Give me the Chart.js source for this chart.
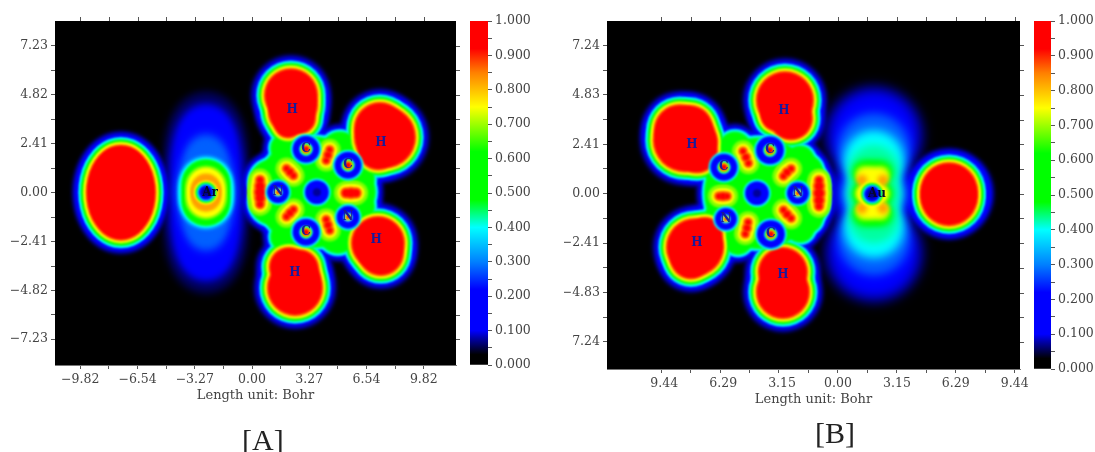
<!DOCTYPE html>
<html>
<head>
<meta charset="utf-8">
<script src="https://cdn.jsdelivr.net/npm/chart.js@4"></script>
<style>
  body { margin: 0; background: #fff; width: 1095px; height: 452px; overflow: hidden; position: relative; }
  canvas { position: absolute; top: 0; }
  .cap { position: absolute; font: 30px "Liberation Serif", serif; color: #222; line-height: 30px; }
</style>
</head>
<body>
<canvas id="panelA" width="470" height="452" style="left:0"></canvas>
<canvas id="barA" width="100" height="452" style="left:470px"></canvas>
<canvas id="panelB" width="470" height="452" style="left:564px"></canvas>
<canvas id="barB" width="61" height="452" style="left:1034px"></canvas>
<div class="cap" style="left:242px;top:425px">[A]</div>
<div class="cap" style="left:815px;top:418px">[B]</div>
<script>
// Tick values and labels, empty label = minor tick
const xTicksA = [-9.82, -8.18, -6.54, -4.9, -3.27, -1.63, 0, 1.63, 3.27, 4.9, 6.54, 8.18, 9.82];
const xLabelsA = ['\u22129.82', '', '\u22126.54', '', '\u22123.27', '', '0.00', '', '3.27', '', '6.54', '', '9.82'];
const yTicksA = [7.23, 6.03, 4.82, 3.62, 2.41, 1.21, 0, -1.21, -2.41, -3.62, -4.82, -6.03, -7.23];
const yLabelsA = ['7.23', '', '4.82', '', '2.41', '', '0.00', '', '\u22122.41', '', '\u22124.82', '', '\u22127.23'];
const xTicksB = [-9.44, -7.87, -6.29, -4.72, -3.15, -1.57, 0, 1.57, 3.15, 4.72, 6.29, 7.87, 9.44];
const xLabelsB = ['\u20029.44', '', '\u20026.29', '', '\u20023.15', '', '0.00', '', '3.15', '', '6.29', '', '9.44'];
const yTicksB = [7.24, 6.03, 4.83, 3.62, 2.41, 1.21, 0, -1.21, -2.41, -3.62, -4.83, -6.03, -7.24];
const yLabelsB = ['7.24', '', '4.83', '', '2.41', '', '0.00', '', '\u22122.41', '', '\u22124.83', '', '7.24'];

// Colour scale
const barStops = [0, 0.03, 0.08, 0.1, 0.22, 0.3, 0.4, 0.48, 0.62, 0.75, 0.85, 0.92, 1];
const barColors = ['#000000', '#000000', '#0000b0', '#0000ff', '#0000ff', '#0080ff', '#00ffff', '#00ff00', '#00ff00', '#ffff00', '#ff8000', '#ff0000', '#ff0000'];

// Contour levels, low to high ELF
const levelColors = ['#00005a', '#0000ff', '#0070ff', '#00ffff', '#00ff80', '#00ff00', '#80ff00', '#ffff00', '#ff8000', '#ff0000'];
// How far each contour lies outside the red core of a lobe
const lobeWidths = [15, 12.5, 9, 8, 6.8, 5.5, 4.2, 3, 1.5, 0];
// Same for the green ring body and for the bond basins
const bodyWidths = [9, 7, 3.5, 2.5, 1, 0];
const bondWidths = [null, null, null, null, null, null, 8, 4.5, 2, 0];

// Basins as [x, y, r] in Bohr
const lobesA = [
  [-7.49, 0, 34], [-7.49, 0.39, 33], [-7.49, -0.39, 33], [-7.49, 0.74, 30], [-7.49, -0.74, 30], [-7.49, 1.08, 25], [-7.49, -1.08, 25],
  [2.23, 4.8, 26], [2.34, 4.31, 24], [2.23, 3.97, 22], [2.74, 3.67, 15], [2.06, 3.37, 13],
  [7.6, 2.73, 30], [7.31, 3.18, 25], [7.2, 2.09, 19],
  [7.2, -2.49, 26], [7.37, -2.98, 22],
  [2.46, -4.7, 27], [2.74, -4.23, 20], [2.74, -3.74, 18], [2.11, -3.67, 19]
];
const bodyA = [
  [3.43, 0.02, 55], [1.14, 0.52, 22], [1.14, -0.47, 22], [5.6, 0.02, 25],
  [5.03, 2.09, 18], [1.89, 2.19, 14], [6.29, 0.71, 12], [6.29, -0.71, 12], [1.89, -2.19, 14], [4.91, -2.09, 18]
];
const bondsA = [
  [0.46, 0.62, 3.5], [0.46, 0.32, 4.5], [0.46, 0.02, 5], [0.46, -0.27, 4.5], [0.46, -0.57, 3.5],
  [1.97, 1.19, 3], [2.17, 1.01, 3.5], [2.37, 0.83, 3],
  [4.44, 2.11, 3], [4.34, 1.85, 3.5], [4.24, 1.58, 3],
  [5.37, -0.02, 4], [5.66, -0.02, 4.5], [5.95, -0.02, 4],
  [2.37, -0.83, 3], [2.17, -1.01, 3.5], [1.97, -1.19, 3],
  [4.24, -1.33, 3], [4.34, -1.6, 3.5], [4.44, -1.87, 3]
];
const holesA = [[3.09, 2.14, 13.5], [5.49, 1.35, 13.5], [1.49, 0.02, 11], [5.49, -1.21, 11.5], [3.09, -1.95, 13.5], [3.71, 0.02, 12]];
const carbonsA = [[3.09, 2.14], [5.49, 1.35], [3.09, -1.95]];
const nitrogensA = [[1.49, 0.02], [5.49, -1.21]];
const centreA = [[3.71, 0.02]];

const lobesB = [
  [5.93, 0.12, 28], [5.93, -0.17, 28],
  [-2.83, 4.56, 28], [-2.51, 3.68, 21], [-3.2, 3.98, 17], [-3.31, 3.78, 14],
  [-8.17, 2.61, 31], [-8.44, 3.1, 25], [-7.53, 2.02, 20], [-7.9, 3.2, 22], [-7.37, 2.51, 17],
  [-7.63, -2.61, 28], [-7.1, -2.02, 17], [-7.85, -3.15, 20], [-7.15, -2.51, 18],
  [-2.94, -4.8, 26], [-2.94, -3.83, 24]
];
const bodyB = [
  [-4.16, 0.02, 55], [-1.87, 0.41, 25], [-1.87, -0.46, 25],
  [-5.5, 2.22, 16], [-5.34, -2.27, 14], [-2.03, 1.63, 14], [-1.6, 1.15, 14], [-1.6, -1.2, 14], [-2.03, -1.68, 14], [-6.57, 1.05, 10], [-6.57, -1.1, 10]
];
const bondsB = [
  [-5.07, 2.07, 3], [-4.91, 1.78, 3.5], [-4.78, 1.49, 3],
  [-2.91, 0.85, 3], [-2.72, 1.05, 3.5], [-2.5, 1.22, 3],
  [-1.01, 0.66, 3.5], [-1.01, 0.37, 4.5], [-1.01, 0.02, 5], [-1.01, -0.32, 4.5], [-1.01, -0.61, 3.5],
  [-6.36, -0.12, 3], [-6.14, -0.12, 3.5], [-5.92, -0.12, 3],
  [-4.8, -1.39, 3], [-4.86, -1.68, 3.5], [-4.95, -1.97, 3],
  [-2.91, -0.8, 3], [-2.72, -1, 3.5], [-2.5, -1.2, 3]
];
const holesB = [[-6.09, 1.29, 13.5], [-3.63, 2.12, 14], [-2.14, 0.02, 11], [-5.98, -1.24, 11], [-3.58, -1.98, 14], [-4.32, 0.02, 12]];
const carbonsB = [[-6.09, 1.29], [-3.63, 2.12], [-3.58, -1.98]];
const nitrogensB = [[-2.14, 0.02], [-5.98, -1.24]];
const centreB = [[-4.32, 0.02]];
// Wider blue skirt of the right lobe in B
const skirtB = [[5.93, 0, 46], [5.93, 0, 43]];

// Metal halo contours, [x, y, r] per colour
const haloColors = ['#00005a', '#0000ff', '#0060ff', '#00ffff', '#00ffa0', '#00ff00', '#80ff00', '#ffff00', '#ffa000', '#ffff00', '#00ff00', '#00ffff', '#0000ff', '#00008a'];
const haloBlurA = [5, 5, 5, 2, 1.3, 1.3, 1.3, 1.3, 1.5, 1.3, 1.3, 1.3, 1.3, 1.3];
const haloBlurB = [6, 6, 5, 5, 4, 3, 2, 2, 2.5, 1.3, 1.3, 1.3, 1.3, 1.3];
const haloA = [
  [[-2.63, 0, 42], [-2.63, 1.23, 42], [-2.63, -1.23, 42], [-2.63, 2.22, 41], [-2.63, -2.22, 41], [-2.63, 2.96, 37], [-2.63, -2.96, 37], [-2.63, 3.45, 30], [-2.63, -3.45, 30]],
  [[-2.63, 0, 36], [-2.63, 1.08, 36], [-2.63, -1.08, 36], [-2.63, 1.97, 34], [-2.63, -1.97, 34], [-2.63, 2.71, 30], [-2.63, -2.71, 30], [-2.63, 3.2, 23], [-2.63, -3.2, 23]],
  [[-2.63, 0, 30], [-2.63, 0.89, 26], [-2.63, -0.89, 26], [-2.63, 1.48, 22], [-2.63, -1.48, 22], [-2.63, 1.97, 18], [-2.63, -1.97, 18]],
  [[-2.63, 0, 27], [-2.63, 0.3, 27], [-2.63, -0.3, 27], [-2.63, 0.49, 26], [-2.63, -0.49, 26]],
  [[-2.63, 0, 25.5], [-2.63, 0.3, 25], [-2.63, -0.3, 25], [-2.63, 0.49, 24], [-2.63, -0.49, 24]],
  [[-2.63, 0, 24], [-2.63, 0.44, 24], [-2.63, -0.44, 24]],
  [[-2.63, 0, 21], [-2.63, 0.3, 21], [-2.63, -0.3, 21]],
  [[-2.63, 0, 19], [-2.63, 0.3, 18.5], [-2.63, -0.3, 18.5]],
  [[-2.63, 0, 15], [-2.63, 0.2, 15], [-2.63, -0.2, 15]],
  [[-2.63, 0, 12]],
  [[-2.63, 0, 10.5]],
  [[-2.63, 0, 9]],
  [[-2.63, 0, 7.5]],
  [[-2.63, 0, 4]]
];
const haloB = [
  [[1.92, 2.85, 51], [1.92, -2.9, 51], [1.92, 0, 47]],
  [[1.92, 2.85, 45], [1.92, -2.9, 45], [1.92, 0, 42]],
  [[1.92, 2.17, 36], [1.92, -2.22, 36], [1.92, 0, 32]],
  [[1.92, 1.63, 30], [1.92, -1.68, 30], [1.92, 0, 28]],
  [[1.92, 1.15, 25], [1.92, -1.2, 25], [1.92, 0, 25]],
  [[1.39, 1.05, 12], [2.3, 1.05, 12], [1.39, -1, 12], [2.3, -1, 12], [1.82, 1.05, 12], [1.82, -1, 12], [1.39, 0, 12], [2.3, 0, 12], [1.82, 0, 16]],
  [[1.39, 0.95, 9], [2.3, 0.95, 9], [1.39, -0.9, 9], [2.3, -0.9, 9], [1.82, 0.95, 9], [1.82, -0.9, 9], [1.39, 0, 9], [2.3, 0, 9], [1.82, 0, 14]],
  [[1.44, 0.85, 8], [2.24, 0.85, 8], [1.44, -0.8, 8], [2.24, -0.8, 8], [1.82, 0.85, 8], [1.82, -0.8, 8], [1.44, 0, 8], [2.24, 0, 8], [1.82, 0, 13]],
  [[1.28, 0.66, 5.5], [2.4, 0.66, 5.5], [1.28, -0.71, 5.5], [2.4, -0.71, 5.5]],
  [[1.82, -0.02, 13]],
  [[1.82, -0.02, 11]],
  [[1.82, -0.02, 9.5]],
  [[1.82, -0.02, 8]],
  [[1.82, -0.02, 4.5]]
];

// Atom labels
const atomNamesA = ['H', 'H', 'H', 'H', 'C', 'C', 'C', 'N', 'N', 'Ar'];
const atomXA = [2.29, 7.37, 7.09, 2.46, 3.09, 5.49, 3.09, 1.49, 5.49, -2.4];
const atomYA = [4.06, 2.44, -2.34, -3.97, 2.14, 1.35, -1.95, 0.02, -1.21, -0.02];
const atomNamesB = ['H', 'H', 'H', 'H', 'C', 'C', 'C', 'N', 'N', 'Au'];
const atomXB = [-7.79, -2.88, -7.53, -2.94, -6.09, -3.63, -3.58, -2.14, -5.98, 2.08];
const atomYB = [2.37, 4.03, -2.41, -3.97, 1.29, 2.12, -1.98, 0.02, -1.24, -0.02];

const TEXT = '#444';
const FONT = 'DejaVu Serif, serif';

function discs(list, widths, i) {
  if (widths[i] === null || widths[i] === undefined) return [];
  return list.map(d => ({ x: d[0], y: d[1], r: d[2] + widths[i] }));
}

function atomDiscs(list, r, color) {
  return { data: list.map(d => ({ x: d[0], y: d[1], r: r })), backgroundColor: color };
}

function haloLayer(p, k) {
  return { data: p.halo[k].map(d => ({ x: d[0], y: d[1], r: d[2] })), backgroundColor: haloColors[k], blur: p.haloBlur[k] };
}

// Painted from lowest contour to highest, blurred by the plugin below
function buildLayers(p) {
  const layers = [];
  levelColors.forEach((color, i) => {
    let data = discs(p.lobes, lobeWidths, i).concat(discs(p.body, bodyWidths, i), discs(p.bonds, bondWidths, i));
    if (p.skirt && p.skirt[i]) data.push({ x: p.skirt[i][0], y: p.skirt[i][1], r: p.skirt[i][2] });
    // outer halo goes under the lobes' upper contours
    if (i === 0) layers.push(haloLayer(p, 0));
    layers.push({ data: data, backgroundColor: color, blur: i < 2 ? 2 : 1.3 });
    if (i === 1) p.halo.forEach((h, k) => { if (k > 0) layers.push(haloLayer(p, k)); });
  });
  layers.push({ data: p.holes.map(d => ({ x: d[0], y: d[1], r: d[2] + 1.8 })), backgroundColor: '#00ffff' });
  layers.push({ data: p.holes.map(d => ({ x: d[0], y: d[1], r: d[2] })), backgroundColor: '#0000ff' });
  layers.push(atomDiscs(p.centre, 4, '#00009a'));
  layers.push(atomDiscs(p.carbons, 6.5, '#00ffff'));
  layers.push(atomDiscs(p.carbons, 5.5, '#30ff00'));
  layers.push(atomDiscs(p.carbons, 4.5, '#ffe000'));
  layers.push(atomDiscs(p.carbons, 3.2, '#ff0000'));
  layers.push(atomDiscs(p.nitrogens, 4.5, '#00e0ff'));
  layers.push(atomDiscs(p.nitrogens, 3.2, '#ffff00'));
  layers.push(atomDiscs(p.nitrogens, 1.8, '#ff0000'));
  // Chart.js draws the first dataset on top
  return layers.reverse();
}

const blackPlot = {
  id: 'blackPlot',
  beforeDatasetsDraw(chart) {
    const a = chart.chartArea;
    chart.ctx.fillStyle = '#000';
    chart.ctx.fillRect(a.left, a.top, a.width, a.height);
  },
  beforeDatasetDraw(chart, args) { chart.ctx.filter = 'blur(' + (chart.data.datasets[args.index].blur || 1.3) + 'px)'; },
  afterDatasetDraw(chart) { chart.ctx.filter = 'none'; },
  afterDatasetsDraw(chart, args, opts) {
    const ctx = chart.ctx;
    const a = chart.chartArea;
    const sx = chart.scales.x;
    const sy = chart.scales.y;
    // top and right ticks mirror the axes
    ctx.strokeStyle = '#555';
    ctx.lineWidth = 1;
    ctx.beginPath();
    sx.ticks.forEach(t => {
      const px = Math.round(sx.getPixelForValue(t.value)) + 0.5;
      ctx.moveTo(px, a.top);
      ctx.lineTo(px, a.top - 4);
    });
    sy.ticks.forEach(t => {
      const py = Math.round(sy.getPixelForValue(t.value)) + 0.5;
      ctx.moveTo(a.right, py);
      ctx.lineTo(a.right + 4, py);
    });
    ctx.stroke();
    ctx.font = 'bold 12px ' + FONT;
    ctx.textAlign = 'center';
    ctx.textBaseline = 'middle';
    opts.names.forEach((n, i) => {
      ctx.fillStyle = n.length > 1 ? '#06062c' : '#1a1a9a';
      ctx.fillText(n, sx.getPixelForValue(opts.xs[i]), sy.getPixelForValue(opts.ys[i]));
    });
  }
};

function tickScale(values, labels, min, max, position, extra) {
  return Object.assign({
    type: 'linear', min: min, max: max, position: position,
    border: { color: '#777', width: 1 },
    grid: { drawOnChartArea: false, drawTicks: true, tickLength: 4, tickColor: '#555' },
    afterBuildTicks(s) { s.ticks = values.map(v => ({ value: v })); },
    ticks: {
      autoSkip: false, maxRotation: 0, minRotation: 0, color: TEXT, padding: 3,
      font: { family: FONT, size: 12.5 },
      callback: (v, i) => labels[i]
    }
  }, extra);
}

function makePanel(id, p) {
  new Chart(document.getElementById(id), {
    type: 'bubble',
    data: { datasets: buildLayers(p) },
    options: {
      responsive: false,
      animation: false,
      events: [],
      layout: { autoPadding: false, padding: { top: 21, left: p.padLeft, right: p.padRight, bottom: p.padBottom } },
      plugins: {
        legend: { display: false }, tooltip: { enabled: false },
        blackPlot: { names: p.names, xs: p.atomX, ys: p.atomY }
      },
      elements: { point: { borderWidth: 0 } },
      scales: {
        x: tickScale(p.xTicks, p.xLabels, p.xRange[0], p.xRange[1], 'bottom', {
          title: { display: true, text: 'Length unit: Bohr', color: TEXT, font: { family: FONT, size: 13 }, padding: 0 },
          afterFit(s) { s.height = p.xHeight; }
        }),
        y: tickScale(p.yTicks, p.yLabels, p.yRange[0], p.yRange[1], 'left', { afterFit(s) { s.width = p.yWidth; } })
      }
    },
    plugins: [blackPlot]
  });
}

function makeBar(id, barWidth, canvasWidth, padBottom) {
  new Chart(document.getElementById(id), {
    type: 'bar',
    data: {
      labels: ['ELF'],
      datasets: [{
        data: [1],
        barPercentage: 1,
        categoryPercentage: 1,
        backgroundColor(ctx) {
          const a = ctx.chart.chartArea;
          if (!a) return '#000';
          const g = ctx.chart.ctx.createLinearGradient(0, a.bottom, 0, a.top);
          barStops.forEach((s, i) => g.addColorStop(s, barColors[i]));
          return g;
        }
      }]
    },
    options: {
      responsive: false,
      animation: false,
      events: [],
      layout: { padding: { top: 21, bottom: padBottom } },
      plugins: { legend: { display: false }, tooltip: { enabled: false } },
      scales: {
        x: { display: false, offset: true },
        y: {
          position: 'right', min: 0, max: 1,
          border: { display: false },
          grid: { drawOnChartArea: false, tickLength: 4, tickColor: '#555' },
          afterFit(s) { s.width = canvasWidth - barWidth; },
          ticks: {
            stepSize: 0.05, autoSkip: false, color: TEXT, padding: 3,
            font: { family: FONT, size: 12.5 },
            callback: v => (Math.round(v * 100) % 10 === 0 ? v.toFixed(3) : '')
          }
        }
      }
    }
  });
}

makePanel('panelA', {
  lobes: lobesA, body: bodyA, bonds: bondsA, holes: holesA, carbons: carbonsA, nitrogens: nitrogensA, centre: centreA, halo: haloA, haloBlur: haloBlurA,
  names: atomNamesA, atomX: atomXA, atomY: atomYA,
  xTicks: xTicksA, xLabels: xLabelsA, yTicks: yTicksA, yLabels: yLabelsA,
  xRange: [-11.26, 11.66], yRange: [-8.5, 8.46],
  padLeft: 0, padRight: 14, padBottom: 49, xHeight: 38, yWidth: 55
});
makePanel('panelB', {
  lobes: lobesB, body: bodyB, bonds: bondsB, holes: holesB, carbons: carbonsB, nitrogens: nitrogensB, centre: centreB, halo: haloB, haloBlur: haloBlurB, skirt: skirtB,
  names: atomNamesB, atomX: atomXB, atomY: atomYB,
  xTicks: xTicksB, xLabels: xLabelsB, yTicks: yTicksB, yLabels: yLabelsB,
  xRange: [-12.33, 9.72], yRange: [-8.56, 8.43],
  padLeft: 0, padRight: 14, padBottom: 45, xHeight: 38, yWidth: 43
});
makeBar('barA', 18, 100, 87);
makeBar('barB', 17, 61, 83);
</script>
</body>
</html>
